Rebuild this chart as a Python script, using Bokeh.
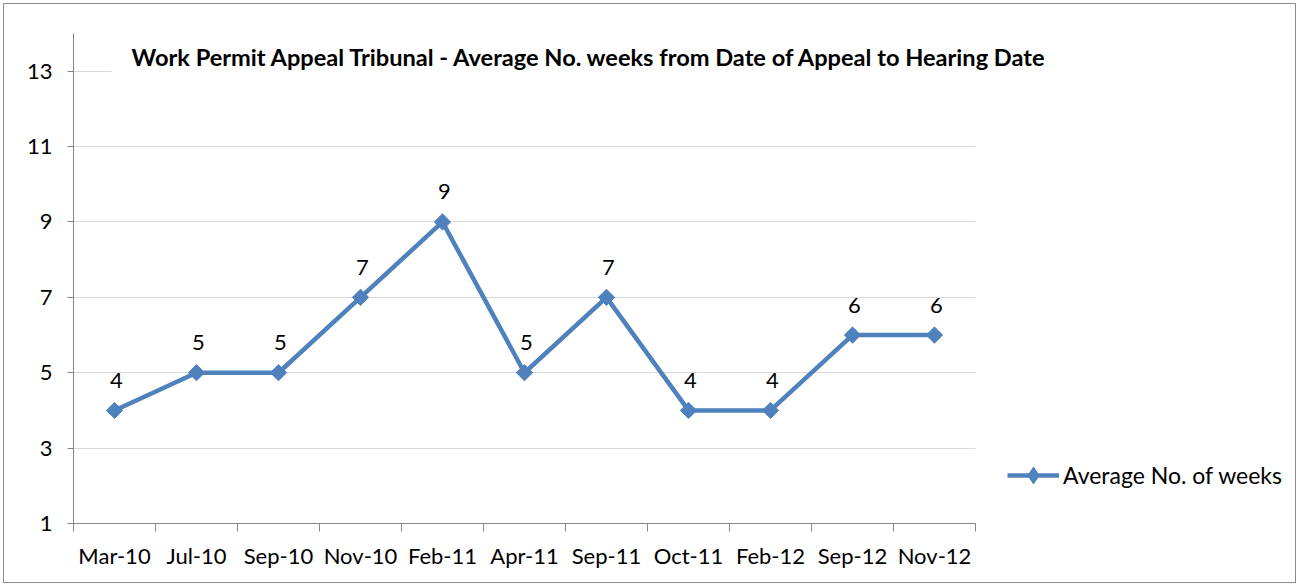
import numpy as np
from bokeh.plotting import figure
from bokeh.models import (FixedTicker, Label, Legend, LegendItem, ColumnDataSource, Range1d,
                          BoxAnnotation)
from bokeh.core.properties import value
from bokeh.embed import file_html
from bokeh.resources import INLINE

categories = ["Mar-10", "Jul-10", "Sep-10", "Nov-10", "Feb-11", "Apr-11",
              "Sep-11", "Oct-11", "Feb-12", "Sep-12", "Nov-12"]
weeks = [4, 5, 5, 7, 9, 5, 7, 4, 4, 6, 6]
y_ticks = [1, 3, 5, 7, 9, 11, 13]
title_text = "Work Permit Appeal Tribunal - Average No. weeks from Date of Appeal to Hearing Date"
series_name = "Average No. of weeks"

n = len(categories)
xpos = [i + 0.5 for i in range(n)]
FONT = "Lato"
FS = "22px"
BLUE = "#4f81bd"
AXIS = "#868686"

FRAME_W = 1222      # frame spans to the right edge; categories use the first 902 px
CAT_W = 902

p = figure(output_backend="svg", toolbar_location=None,
           frame_width=FRAME_W, frame_height=490,
           x_range=Range1d(0, n * FRAME_W / CAT_W), y_range=Range1d(1, 14),
           min_border_left=69, min_border_right=0,
           min_border_top=29, min_border_bottom=59)
p.outline_line_color = None
p.background_fill_color = "white"
p.border_fill_color = "white"
p.styles = {"border": "1px solid #8c8c8c", "margin": "3px 0 0 3px"}

# x axis: labels at category centres, ticks at boundaries
xa = p.xaxis[0]
xa.ticker = FixedTicker(ticks=xpos, minor_ticks=list(range(n + 1)))
xa.bounds = (0, n)
xa.major_label_overrides = {x: c for x, c in zip(xpos, categories)}
xa.major_tick_line_color = None
xa.minor_tick_line_color = AXIS
xa.minor_tick_out = 8
xa.minor_tick_in = 0
xa.axis_line_color = AXIS
xa.major_label_text_font = FONT
xa.major_label_text_font_size = FS
xa.major_label_text_color = "black"
xa.major_label_standoff = 10

ya = p.yaxis[0]
ya.ticker = FixedTicker(ticks=y_ticks)
ya.major_tick_out = 6
ya.major_tick_in = 0
ya.major_tick_line_color = AXIS
ya.minor_tick_line_color = None
ya.axis_line_color = AXIS
ya.major_label_text_font = FONT
ya.major_label_text_font_size = FS
ya.major_label_text_color = "black"
ya.major_label_standoff = 15

p.xgrid.grid_line_color = None
p.ygrid.grid_line_color = "#d9d9d9"
p.ygrid.ticker = FixedTicker(ticks=y_ticks)

# blank the area right of the category axis (legend area)
p.add_layout(BoxAnnotation(left=n, fill_color="white", fill_alpha=1.0, line_color=None,
                           level="underlay"))

src = ColumnDataSource(dict(x=xpos, y=weeks, lbl=[str(v) for v in weeks]))
r_line = p.line("x", "y", source=src, line_color=BLUE, line_width=4.5, line_join="round")
r_pts = p.scatter("x", "y", source=src, marker="square", angle=np.pi / 4, size=11.5,
                  fill_color=BLUE, line_color=BLUE)
# hidden renderer used only for the legend key (Excel-style narrow diamond)
r_key = p.scatter("x", "y", source=src, marker="diamond", size=17,
                  fill_color=BLUE, line_color=BLUE, visible=False)
p.text("x", "y", text="lbl", source=src, text_align="center", text_baseline="middle",
       y_offset=-30, x_offset=2, text_font=value(FONT), text_font_size=FS, text_color="black")

title = Label(x=6.3, y=13.37, text=title_text, text_align="center", text_baseline="middle",
              text_font=FONT, text_font_size="23.6px", text_font_style="bold", text_color="black",
              background_fill_color="white", padding=20)
p.add_layout(title)

legend = Legend(items=[LegendItem(label=series_name, renderers=[r_line, r_key])],
                location=(934, 27), glyph_width=52, glyph_height=42, padding=0, margin=0,
                label_standoff=4, background_fill_alpha=0, border_line_color=None,
                label_text_font=FONT, label_text_font_size="23px", label_text_color="black")
p.add_layout(legend)

open("out.html", "w").write(file_html(p, INLINE))
